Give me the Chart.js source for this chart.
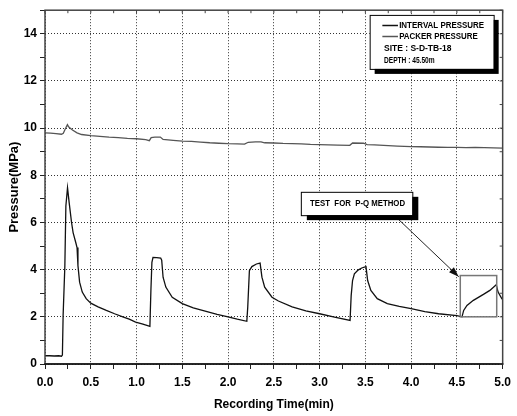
<!DOCTYPE html>
<html>
<head>
<meta charset="utf-8">
<script src="https://cdn.jsdelivr.net/npm/chart.js@4/dist/chart.umd.min.js"></script>
<style>
  html, body { margin: 0; padding: 0; background: #fff; }
  #wrap { width: 517px; height: 416px; }
</style>
</head>
<body>
<div id="wrap"><canvas id="c" width="517" height="416"></canvas></div>
<script>
// Interval pressure record (time in min, pressure in MPa)
const intervalTime = [0, 0.05, 0.1, 0.15, 0.18, 0.19, 0.198, 0.217, 0.228, 0.246, 0.264, 0.29, 0.307, 0.336, 0.35, 0.36, 0.378, 0.407, 0.45, 0.5, 0.58, 0.67, 0.76, 0.85, 0.92, 0.99, 1.06, 1.13, 1.146, 1.157, 1.168, 1.18, 1.22, 1.264, 1.275, 1.29, 1.32, 1.39, 1.5, 1.62, 1.75, 1.88, 2.0, 2.1, 2.205, 2.215, 2.233, 2.26, 2.31, 2.35, 2.37, 2.4, 2.48, 2.55, 2.7, 2.85, 3.0, 3.15, 3.333, 3.345, 3.36, 3.38, 3.42, 3.46, 3.507, 3.525, 3.56, 3.63, 3.74, 3.87, 4.0, 4.15, 4.3, 4.5, 4.556, 4.574, 4.61, 4.68, 4.79, 4.86, 4.93, 4.95, 4.99, 5.0];
const intervalPressure = [0.35, 0.35, 0.34, 0.35, 0.33, 0.38, 2.06, 4.17, 6.7, 7.47, 6.84, 6.0, 5.57, 5.15, 4.94, 4.17, 3.47, 3.05, 2.77, 2.58, 2.42, 2.27, 2.13, 2.0, 1.9, 1.78, 1.7, 1.62, 1.6, 3.12, 4.31, 4.52, 4.51, 4.49, 4.4, 3.68, 3.26, 2.83, 2.56, 2.38, 2.24, 2.1, 2.0, 1.9, 1.81, 2.41, 3.96, 4.13, 4.24, 4.28, 3.68, 3.26, 2.83, 2.67, 2.42, 2.25, 2.13, 2.0, 1.85, 2.9, 3.54, 3.82, 3.98, 4.07, 4.13, 3.54, 3.12, 2.77, 2.56, 2.44, 2.35, 2.22, 2.13, 2.05, 2.0, 2.27, 2.48, 2.7, 2.95, 3.12, 3.36, 3.05, 2.77, 2.74];

// Packer pressure record
const packerTime = [0, 0.06, 0.12, 0.18, 0.2, 0.22, 0.245, 0.26, 0.3, 0.35, 0.4, 0.5, 0.6, 0.7, 0.8, 0.9, 1.0, 1.1, 1.14, 1.16, 1.2, 1.26, 1.29, 1.4, 1.5, 1.6, 1.7, 1.8, 1.9, 2.0, 2.1, 2.18, 2.22, 2.3, 2.36, 2.4, 2.5, 2.6, 2.7, 2.8, 2.9, 3.0, 3.1, 3.2, 3.33, 3.36, 3.48, 3.52, 3.6, 3.7, 3.85, 4.0, 4.1, 4.2, 4.3, 4.4, 4.5, 4.6, 4.7, 4.8, 4.9, 5.0];
const packerPressure = [9.8, 9.79, 9.77, 9.74, 9.78, 9.95, 10.15, 10.05, 9.92, 9.8, 9.73, 9.68, 9.65, 9.62, 9.6, 9.57, 9.55, 9.51, 9.47, 9.6, 9.62, 9.62, 9.52, 9.48, 9.45, 9.44, 9.41, 9.38, 9.36, 9.34, 9.33, 9.32, 9.4, 9.42, 9.42, 9.38, 9.37, 9.35, 9.34, 9.33, 9.31, 9.3, 9.29, 9.28, 9.27, 9.37, 9.36, 9.3, 9.29, 9.27, 9.24, 9.22, 9.21, 9.2, 9.19, 9.18, 9.18, 9.17, 9.18, 9.17, 9.16, 9.15];

// Axis ranges and tick spacing
const xRange = [0, 5];
const yRange = [0, 15];
const xStep = 0.25, xLabelStep = 0.5;
const yStep = 1, yLabelStep = 2;

// Legend and note texts
const legendNames = ['INTERVAL PRESSURE', 'PACKER PRESSURE'];
const legendNotes = ['SITE : S-D-TB-18', 'DEPTH : 45.50m'];
const noteText = 'TEST  FOR  P-Q METHOD';
// P-Q test window (time, pressure) and callout placement in data units
const testWindowX = [4.537, 4.935];
const testWindowY = [2.0, 3.75];
const calloutX = [2.795, 4.013];
const calloutY = [7.3, 6.31];
const arrowFrom = [3.83, 6.25];
const arrowTo = [4.52, 3.7];

const FONT = '"Liberation Sans", Arial, Helvetica, sans-serif';
const isMultiple = (v, s) => Math.abs(v / s - Math.round(v / s)) < 1e-6;
const toPoints = (xs, ys) => xs.map((x, i) => ({ x, y: ys[i] }));

const decorations = {
  id: 'decorations',
  afterDatasetsDraw(chart) {
    const { ctx, chartArea: a, scales: { x, y } } = chart;
    ctx.save();

    // test window box
    const wx1 = x.getPixelForValue(testWindowX[0]), wx2 = x.getPixelForValue(testWindowX[1]);
    const wy1 = y.getPixelForValue(testWindowY[1]), wy2 = y.getPixelForValue(testWindowY[0]);
    ctx.strokeStyle = '#777';
    ctx.lineWidth = 1.5;
    ctx.strokeRect(wx1, wy1, wx2 - wx1, wy2 - wy1);

    // arrow
    const ax1 = x.getPixelForValue(arrowFrom[0]), ay1 = y.getPixelForValue(arrowFrom[1]);
    const ax2 = x.getPixelForValue(arrowTo[0]), ay2 = y.getPixelForValue(arrowTo[1]);
    ctx.strokeStyle = '#222';
    ctx.lineWidth = 1;
    ctx.beginPath(); ctx.moveTo(ax1, ay1); ctx.lineTo(ax2, ay2); ctx.stroke();
    const ang = Math.atan2(ay2 - ay1, ax2 - ax1), hl = 10, hw = 3.5;
    ctx.fillStyle = '#111';
    ctx.beginPath();
    ctx.moveTo(ax2, ay2);
    ctx.lineTo(ax2 - hl * Math.cos(ang) + hw * Math.sin(ang), ay2 - hl * Math.sin(ang) - hw * Math.cos(ang));
    ctx.lineTo(ax2 - hl * Math.cos(ang) - hw * Math.sin(ang), ay2 - hl * Math.sin(ang) + hw * Math.cos(ang));
    ctx.closePath(); ctx.fill();

    // callout box with shadow
    const cx1 = x.getPixelForValue(calloutX[0]), cx2 = x.getPixelForValue(calloutX[1]);
    const cy1 = y.getPixelForValue(calloutY[0]), cy2 = y.getPixelForValue(calloutY[1]);
    ctx.fillStyle = '#000';
    ctx.fillRect(cx1 + 6, cy1 + 5, cx2 - cx1, cy2 - cy1);
    ctx.fillStyle = '#fff';
    ctx.fillRect(cx1, cy1, cx2 - cx1, cy2 - cy1);
    ctx.strokeStyle = '#000';
    ctx.lineWidth = 1;
    ctx.strokeRect(cx1 + 0.5, cy1 + 0.5, cx2 - cx1, cy2 - cy1);
    ctx.fillStyle = '#000';
    ctx.font = 'bold 9px ' + FONT;
    ctx.textAlign = 'center';
    ctx.textBaseline = 'middle';
    ctx.fillText(noteText, (cx1 + cx2) / 2 + 1, (cy1 + cy2) / 2, 95);

    // legend box at top-right of the plot
    const lx = a.right - 133, ly = a.top + 4.7, lw = 124, lh = 54;
    ctx.fillStyle = '#000';
    ctx.fillRect(lx + 5, ly + 5, lw, lh);
    ctx.fillStyle = '#fff';
    ctx.fillRect(lx, ly, lw, lh);
    ctx.strokeStyle = '#000';
    ctx.strokeRect(lx + 0.5, ly + 0.5, lw, lh);
    ctx.textAlign = 'left';
    ctx.font = 'bold 8.5px ' + FONT;
    const ds = chart.data.datasets;
    const nameW = [85, 78.7];
    legendNames.forEach((name, i) => {
      const yy = ly + 10.6 + i * 11;
      ctx.strokeStyle = ds[i].borderColor;
      ctx.lineWidth = 1.5;
      ctx.beginPath(); ctx.moveTo(lx + 12.7, yy); ctx.lineTo(lx + 28.3, yy); ctx.stroke();
      ctx.fillStyle = '#000';
      ctx.fillText(name, lx + 29.5, yy + 0.5, nameW[i]);
    });
    const noteW = [69.7, 50.7];
    legendNotes.forEach((t, i) => {
      ctx.fillText(t, lx + 14.3, ly + 34 + i * 11.6, noteW[i]);
    });

    // frame with inward ticks on top and right
    ctx.strokeStyle = '#444';
    ctx.lineWidth = 1.5;
    ctx.strokeRect(a.left, a.top, a.right - a.left, a.bottom - a.top);
    ctx.strokeStyle = '#111';
    ctx.beginPath(); ctx.moveTo(a.left - 0.75, a.bottom); ctx.lineTo(a.right + 0.75, a.bottom); ctx.stroke();
    ctx.lineWidth = 1;
    ctx.strokeStyle = '#444';
    ctx.beginPath();
    x.ticks.forEach(t => {
      const px = x.getPixelForValue(t.value);
      ctx.moveTo(px, a.top); ctx.lineTo(px, a.top + 3);
    });
    y.ticks.forEach(t => {
      const py = y.getPixelForValue(t.value);
      ctx.moveTo(a.right, py); ctx.lineTo(a.right - 3, py);
    });
    ctx.stroke();
    ctx.restore();
  }
};

const tickFont = { family: FONT, size: 12, weight: 'bold' };

new Chart(document.getElementById('c'), {
  type: 'line',
  data: {
    datasets: [
      {
        label: legendNames[0],
        data: toPoints(intervalTime, intervalPressure),
        borderColor: '#111',
        borderWidth: 1.3,
        pointRadius: 0,
        tension: 0
      },
      {
        label: legendNames[1],
        data: toPoints(packerTime, packerPressure),
        borderColor: '#555',
        borderWidth: 1.3,
        pointRadius: 0,
        tension: 0
      }
    ]
  },
  options: {
    responsive: false,
    animation: false,
    devicePixelRatio: 1,
    layout: { padding: { top: 8, right: 11, left: 0, bottom: 0 } },
    plugins: { legend: { display: false }, tooltip: { enabled: false } },
    scales: {
      x: {
        type: 'linear',
        min: xRange[0], max: xRange[1],
        afterFit: s => { s.height = 52; },
        ticks: {
          stepSize: xStep,
          autoSkip: false,
          maxRotation: 0,
          padding: 6,
          color: '#000',
          font: tickFont,
          callback: v => isMultiple(v, xLabelStep) ? Number(v).toFixed(1) : ''
        },
        grid: {
          color: c => (c.tick && isMultiple(c.tick.value, xLabelStep)) ? '#333' : 'rgba(0,0,0,0)',
          tickColor: '#222',
          tickLength: 5,
          lineWidth: 1
        },
        border: { display: false, dash: [1, 2] },
        title: {
          display: true,
          text: 'Recording Time(min)',
          color: '#000',
          font: { family: FONT, size: 12, weight: 'bold' },
          padding: { top: 0, bottom: 4 }
        }
      },
      y: {
        type: 'linear',
        min: yRange[0], max: yRange[1],
        afterFit: s => { s.width = 45; },
        ticks: {
          stepSize: yStep,
          autoSkip: false,
          padding: 3,
          color: '#000',
          font: tickFont,
          callback: v => isMultiple(v, yLabelStep) ? String(v) : ''
        },
        grid: {
          color: c => (c.tick && isMultiple(c.tick.value, yLabelStep)) ? '#333' : 'rgba(0,0,0,0)',
          tickColor: '#222',
          tickLength: 5,
          lineWidth: 1
        },
        border: { display: false, dash: [1, 2] },
        title: {
          display: true,
          text: 'Pressure(MPa)',
          color: '#000',
          font: { family: FONT, size: 13, weight: 'bold' },
          padding: { top: 7, bottom: 0 }
        }
      }
    }
  },
  plugins: [decorations]
});
</script>
</body>
</html>
